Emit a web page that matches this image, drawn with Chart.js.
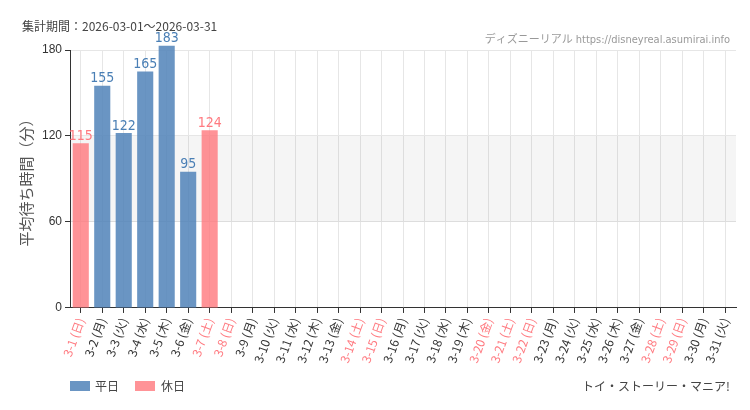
<!DOCTYPE html>
<html><head><meta charset="utf-8">
<script src="https://cdn.jsdelivr.net/npm/chart.js@4"></script>
<style>body{margin:0;background:#fff}#wrap{width:750px;height:410px}</style>
</head><body><div id="wrap"><canvas id="c"></canvas></div>
<script>
const days = ['日','月','火','水','木','金','土'];
const labels = [];
for (let d = 1; d <= 31; d++) labels.push('3-' + d + ' (' + days[(d - 1) % 7] + ')');
const holidays = [1, 7, 8, 14, 15, 20, 21, 22, 28, 29];
const weekdayValues = [null, 155, 122, 165, 183, 95];
const holidayValues = [115, null, null, null, null, null, 124];
const yTicks = [0, 60, 120, 180];
const BLUE = 'rgba(80,130,185,0.85)', PINK = 'rgba(255,120,125,0.8)';

const isHoliday = i => holidays.includes(i + 1);

const deco = {
  id: 'deco',
  beforeDatasetsDraw(chart) {
    const {ctx, chartArea: a, scales: {y}} = chart;
    ctx.save();
    ctx.fillStyle = 'rgba(0,0,0,0.04)';
    ctx.fillRect(a.left, y.getPixelForValue(120), a.right - a.left, y.getPixelForValue(60) - y.getPixelForValue(120));
    ctx.restore();
  },
  afterDraw(chart) {
    const {ctx} = chart;
    ctx.save();
    ctx.font = '12px "Noto Sans CJK JP"';
    ctx.fillStyle = '#444';
    ctx.textBaseline = 'middle';
    ctx.fillText('集計期間：2026-03-01～2026-03-31', 22, 26);
    // legend
    ctx.fillStyle = BLUE; ctx.fillRect(70, 381, 20, 10);
    ctx.fillStyle = PINK; ctx.fillRect(135, 381, 20, 10);
    ctx.fillStyle = '#444';
    ctx.fillText('平日', 95, 386);
    ctx.fillText('休日', 161, 386);
    ctx.font = '11px "DejaVu Sans Condensed", "Noto Sans CJK JP"';
    ctx.fillStyle = '#999';
    ctx.textAlign = 'right';
    ctx.fillText('ディズニーリアル https://disneyreal.asumirai.info', 730, 40);
    ctx.fillStyle = '#444';
    ctx.font = '12px "Noto Sans CJK JP"';
    ctx.fillText('トイ・ストーリー・マニア!', 730, 386);
    ctx.font = '14px "DejaVu Sans Condensed"';
    ctx.textAlign = 'center';
    ctx.textBaseline = 'bottom';
    chart.data.datasets.forEach((ds, di) => {
      chart.getDatasetMeta(di).data.forEach((bar, i) => {
        if (ds.data[i] == null) return;
        ctx.fillStyle = di === 0 ? '#4a7fb5' : '#ff7a80';
        ctx.fillText(ds.data[i], bar.x, bar.y);
      });
    });
    ctx.restore();
  }
};

new Chart(document.getElementById('c'), {
  type: 'bar',
  data: {
    labels: labels,
    datasets: [
      {label: '平日', data: weekdayValues, backgroundColor: BLUE, barPercentage: 0.75, categoryPercentage: 1},
      {label: '休日', data: holidayValues, backgroundColor: PINK, barPercentage: 0.75, categoryPercentage: 1}
    ]
  },
  options: {
    responsive: true, maintainAspectRatio: false, animation: false,
    layout: {padding: {top: 50, right: 14, left: 13, bottom: 42}},
    clip: false,
    scales: {
      x: {
        stacked: true,
        grid: {color: '#e6e6e6', tickColor: '#333', tickLength: 5, offset: false},
        border: {color: '#333'},
        ticks: {
          maxRotation: 70, minRotation: 70, autoSkip: false,
          font: {size: 12, family: '"Noto Sans CJK JP"'},
          color: c => isHoliday(c.index) ? '#ff7a80' : '#333'
        }
      },
      y: {
        stacked: true, min: 0, max: 180,
        afterBuildTicks: s => { s.ticks = yTicks.map(v => ({value: v})); },
        grid: {color: '#e6e6e6', tickColor: '#333', tickLength: 5},
        border: {color: '#333'},
        ticks: {font: {size: 12}, color: '#333'},
        title: {display: true, text: '平均待ち時間（分）', color: '#555', font: {size: 15, family: '"Noto Sans CJK JP"'}}
      }
    },
    plugins: {
      legend: {display: false},
      tooltip: {enabled: false}
    }
  },
  plugins: [deco]
});
</script></body></html>
